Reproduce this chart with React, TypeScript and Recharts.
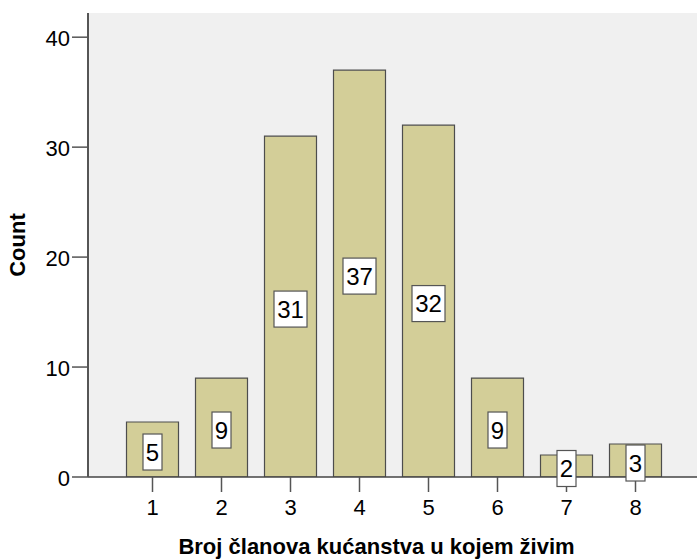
import { BarChart, Bar, XAxis, YAxis, CartesianGrid, LabelList } from 'recharts';

const members = ['1', '2', '3', '4', '5', '6', '7', '8'];
const counts = [5, 9, 31, 37, 32, 9, 2, 3];
const yTicks = [0, 10, 20, 30, 40];

const data = members.map((m, i) => ({ members: m, count: counts[i] }));

const FONT = 'Arial, "Liberation Sans", sans-serif';

// SPSS-style value box centred on the bar's middle
const ValueBox = (props: any) => {
  const { x, y, width, height, value } = props;
  const cx = x + width / 2;
  const cy = y + height / 2 + 2.5;
  const w = String(value).length > 1 ? 33 : 19;
  const h = 36;
  return (
    <g>
      <rect x={cx - w / 2} y={cy - h / 2} width={w} height={h} fill="#ffffff" stroke="#555555" strokeWidth={1.2} />
      <text x={cx} y={cy + 8.5} textAnchor="middle" fontSize={24} fontFamily={FONT} fill="#000">
        {value}
      </text>
    </g>
  );
};

export default function App() {
  return (
    <div style={{ position: 'absolute', left: 0, top: 0, width: 698, height: 560, background: '#fff' }}>
      <BarChart
        width={698}
        height={560}
        data={data}
        margin={{ top: 13, right: 1, bottom: 0, left: 0 }}
        barCategoryGap={8.5}
      >
        <CartesianGrid fill="#f0f0f0" horizontal={false} vertical={false} />
        <XAxis
          xAxisId="top"
          orientation="top"
          dataKey="members"
          height={0}
          tick={false}
          tickLine={false}
          axisLine={{ stroke: '#777777', strokeWidth: 2 }}
          padding={{ left: 30, right: 27 }}
        />
        <XAxis
          dataKey="members"
          height={83}
          padding={{ left: 30, right: 27 }}
          tickSize={15}
          tickLine={{ stroke: '#555555', strokeWidth: 1.5 }}
          axisLine={{ stroke: '#444444', strokeWidth: 1.5 }}
          tick={{ fontSize: 22, fill: '#000', fontFamily: FONT, dy: 5 }}
          label={{
            value: 'Broj članova kućanstva u kojem živim',
            position: 'insideBottom',
            offset: 6,
            dx: -16,
            style: { fontSize: 22, fontWeight: 'bold', fill: '#000', fontFamily: FONT },
          }}
        />
        <YAxis
          width={88}
          domain={[0, 42.2]}
          ticks={yTicks}
          allowDataOverflow
          tickSize={16}
          tickLine={{ stroke: '#555555', strokeWidth: 1.5 }}
          axisLine={{ stroke: '#555555', strokeWidth: 2 }}
          tick={{ fontSize: 22, fill: '#000', fontFamily: FONT, dy: 1 }}
          label={{
            value: 'Count',
            angle: -90,
            position: 'insideLeft',
            offset: 17,
            style: { fontSize: 22, fontWeight: 'bold', fill: '#000', fontFamily: FONT, textAnchor: 'middle' },
          }}
        />
        <Bar dataKey="count" fill="#d3ce98" stroke="#4d4d4d" strokeWidth={1.2} isAnimationActive={false}>
          <LabelList dataKey="count" content={ValueBox} />
        </Bar>
      </BarChart>
    </div>
  );
}
